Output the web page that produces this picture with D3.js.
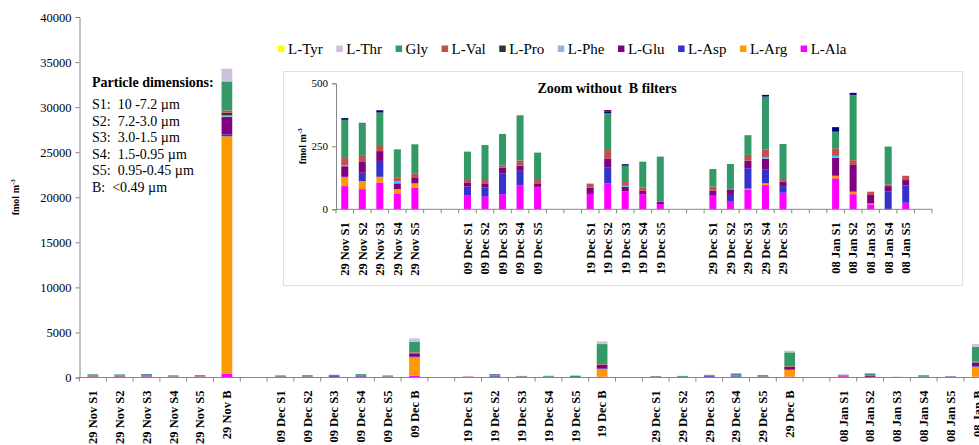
<!DOCTYPE html>
<html>
<head>
<meta charset="utf-8">
<script src="https://cdn.jsdelivr.net/npm/d3@7"></script>
<style>
  body { margin: 0; background: #fff; }
  svg { display: block; }
  svg text { font-family: "Liberation Serif", "Times New Roman", serif; white-space: pre; }
</style>
</head>
<body>
<svg id="chart" width="979" height="445"></svg>
<script>
// sampling dates and size fractions (S1..S5 impactor stages, B = backup filter)
var dates = ["29 Nov", "09 Dec", "19 Dec", "29 Dec", "08 Jan"];
var fractions = ["S1", "S2", "S3", "S4", "S5", "B"];

// stack order bottom -> top
var aminoAcids = ["L-Ala", "L-Arg", "L-Asp", "L-Glu", "L-Phe", "L-Pro", "L-Val", "Gly", "L-Thr", "L-Tyr"];

// fmol m-3, per date: S1, S2, S3, S4, S5, B
var ala = [92, 80, 106, 63, 86, 400,   54, 50, 60, 96, 86, 200,   61, 103, 70, 60, 21, 100,   54, 33, 79, 96, 66, 100,   123, 60, 20, 0, 26, 100];
var arg = [35, 32, 23, 17, 17, 26360,  0, 0, 0, 0, 0, 2040,       0, 0, 0, 0, 0, 840,         0, 0, 3, 7, 0, 730,        10, 10, 3, 0, 0, 1100];
var asp = [2, 33, 63, 0, 0, 220,       36, 37, 83, 57, 3, 60,     0, 62, 2, 0, 0, 80,         0, 24, 81, 56, 26, 60,     0, 0, 0, 70, 68, 80];
var glu = [42, 43, 39, 23, 24, 1920,   17, 16, 22, 20, 14, 380,   25, 37, 18, 14, 9, 370,     20, 20, 30, 42, 18, 280,   72, 106, 34, 22, 22, 360];
var phe = [3, 0, 0, 7, 0, 190,         0, 0, 0, 0, 0, 20,         0, 0, 3, 0, 0, 20,          0, 0, 0, 5, 0, 20,         7, 0, 0, 0, 0, 20];
var pro = [0, 0, 0, 0, 0, 300,         0, 0, 0, 0, 0, 50,         0, 0, 0, 0, 0, 30,          0, 0, 0, 0, 0, 30,         0, 0, 0, 0, 0, 40];
var val = [33, 24, 24, 15, 16, 250,    13, 13, 8, 20, 17, 40,     16, 33, 19, 13, 0, 60,      16, 4, 23, 32, 10, 50,     30, 19, 13, 7, 17, 100];
var gly = [148, 129, 129, 113, 115, 3210, 109, 139, 126, 180, 105, 1180, 0, 146, 61, 102, 179, 2210, 70, 99, 78, 209, 139, 1520, 66, 259, 0, 150, 0, 1610];
var thr = [7, 2, 9, 0, 0, 1410,        0, 0, 0, 0, 0, 370,        0, 8, 6, 0, 0, 300,         0, 0, 0, 7, 0, 180,        18, 8, 0, 0, 0, 300];
var tyr = [0, 0, 0, 0, 0, 0,           0, 0, 0, 0, 0, 0,          0, 5, 0, 0, 0, 0,           0, 0, 0, 0, 0, 0,          0, 0, 0, 0, 0, 0];

var seriesValues = [ala, arg, asp, glu, phe, pro, val, gly, thr, tyr];

var mainTicks = [0, 5000, 10000, 15000, 20000, 25000, 30000, 35000, 40000];
var insetTicks = [0, 250, 500];

var particleTitle = "Particle dimensions:";
var particleLines = ["S1:  10 -7.2 µm", "S2:  7.2-3.0 µm", "S3:  3.0-1.5 µm", "S4:  1.5-0.95 µm", "S5:  0.95-0.45 µm", "B:  <0.49 µm"];

var mainColors = {"L-Ala": "#ff00ff", "L-Arg": "#ff9900", "L-Asp": "#3333cc", "L-Glu": "#800080", "L-Phe": "#8db4e2",
  "L-Pro": "#333333", "L-Val": "#c0504d", "Gly": "#339966", "L-Thr": "#ccc0da", "L-Tyr": "#ffff00"};
// the inset chart was made with a slightly different palette
var insetColors = Object.assign({}, mainColors, {"L-Thr": "#000080", "L-Phe": "#33ccff", "L-Tyr": "#660066"});

// build rows: one per sample
var samples = [];
dates.forEach((d, i) => {
  fractions.forEach((f, j) => {
    var row = {key: d + " " + f, frac: f};
    aminoAcids.forEach((a, k) => { row[a] = seriesValues[k][i * 6 + j]; });
    samples.push(row);
  });
});

// category lists with empty slots between dates (as in the spreadsheet)
var mainKeys = [], insetKeys = [];
dates.forEach((d, i) => {
  fractions.forEach(f => mainKeys.push(d + " " + f));
  if (i < dates.length - 1) mainKeys.push("gap" + i);
  fractions.filter(f => f !== "B").forEach(f => insetKeys.push(d + " " + f));
  insetKeys.push("gapA" + i);
  if (i < dates.length - 1) insetKeys.push("gapB" + i);
});

var svg = d3.select("#chart");
var axisColor = "#868686";
var stack = d3.stack().keys(aminoAcids);

function drawChart(g, rows, keys, xRange, yScale, colors, opt) {
  var x = d3.scaleBand().domain(keys).range(xRange).padding(0);
  var bw = x.bandwidth() * 0.4;

  var layers = stack(rows);
  g.append("g").selectAll("g").data(layers).join("g")
      .attr("fill", d => colors[d.key])
    .selectAll("rect").data(d => d).join("rect")
      .attr("x", d => x(d.data.key) + (x.bandwidth() - bw) / 2)
      .attr("width", bw)
      .attr("y", d => yScale(d[1]))
      .attr("height", d => Math.max(0, yScale(d[0]) - yScale(d[1])));

  // y axis
  var yAxis = g.append("g").attr("transform", "translate(" + xRange[0] + ",0)")
      .call(d3.axisLeft(yScale).tickValues(opt.ticks).tickSize(4).tickPadding(4).tickFormat(d3.format("d")))
      .attr("font-family", null).attr("font-size", opt.yFont);
  yAxis.selectAll("path, line").attr("stroke", axisColor);
  yAxis.selectAll("text").attr("fill", "#000");

  // x axis, ticks between categories
  var y0 = yScale(0);
  g.append("line").attr("x1", xRange[0]).attr("x2", xRange[1]).attr("y1", y0).attr("y2", y0).attr("stroke", axisColor);
  g.append("g").selectAll("line").data(keys.concat(["__end"])).join("line")
      .attr("x1", d => d === "__end" ? xRange[1] : x(d))
      .attr("x2", d => d === "__end" ? xRange[1] : x(d))
      .attr("y1", y0).attr("y2", y0 + 4).attr("stroke", axisColor);

  g.append("g").selectAll("text").data(keys.filter(k => k.indexOf("gap") !== 0)).join("text")
      .attr("transform", d => "translate(" + (x(d) + x.bandwidth() / 2) + "," + (y0 + 13) + ") rotate(-90)")
      .attr("dy", "0.35em")
      .attr("text-anchor", "end")
      .attr("font-weight", "bold")
      .attr("font-size", opt.xFont)
      .text(d => d);

  // y title
  var yt = g.append("text")
      .attr("transform", "translate(" + opt.titleX + "," + ((yScale.range()[0] + yScale.range()[1]) / 2) + ") rotate(-90)")
      .attr("text-anchor", "middle")
      .attr("font-weight", "bold")
      .attr("font-size", 10)
      .text("fmol m");
  yt.append("tspan").attr("dy", -4).attr("font-size", 7).text("-3");
}

// main chart
var yMain = d3.scaleLinear().domain([0, 40000]).range([377.5, 17]);
var mainG = svg.append("g");
drawChart(mainG, samples, mainKeys, [79.5, 79.5 + mainKeys.length * 26.8], yMain, mainColors,
  {ticks: mainTicks, yFont: 12.5, xFont: 12.5, titleX: 19});

// particle size text
var pt = svg.append("g").attr("transform", "translate(92,0)");
pt.append("text").attr("y", 86.5).attr("font-size", 14).attr("font-weight", "bold").text(particleTitle);
pt.selectAll("text.line").data(particleLines).join("text").attr("class", "line")
    .attr("y", (d, i) => 109 + i * 16.6)
    .attr("font-size", 14)
    .text(d => d);

// legend (reverse of stack order)
var legend = svg.append("g").attr("transform", "translate(278,49)");
var lx = 0;
aminoAcids.slice().reverse().forEach(a => {
  legend.append("rect").attr("x", lx).attr("y", -3.5).attr("width", 6.5).attr("height", 6.5).attr("fill", mainColors[a]);
  var t = legend.append("text").attr("x", lx + 10).attr("dy", "0.35em").attr("font-size", 15).text(a);
  lx += 10 + t.node().getComputedTextLength() + 13.5;
});

// inset chart (S fractions only)
var inset = svg.append("g");
inset.append("rect").attr("x", 283.5).attr("y", 71.5).attr("width", 679).attr("height", 214)
    .attr("fill", "#fff").attr("stroke", "#d9e0ea");
var yInset = d3.scaleLinear().domain([0, 500]).range([209.3, 83.3]);
drawChart(inset, samples.filter(s => s.frac !== "B"), insetKeys, [336, 932], yInset, insetColors,
  {ticks: insetTicks, yFont: 11, xFont: 12.5, titleX: 306});
inset.append("text").attr("x", 607).attr("y", 93).attr("text-anchor", "middle")
    .attr("font-size", 14).attr("font-weight", "bold").text("Zoom without  B filters");
</script>
</body>
</html>
